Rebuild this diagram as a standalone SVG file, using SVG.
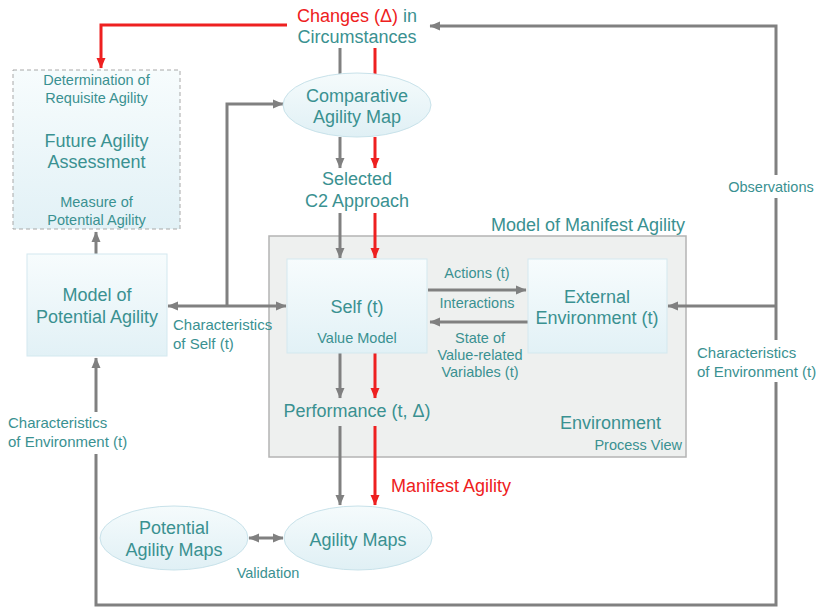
<svg xmlns="http://www.w3.org/2000/svg" width="824" height="608" viewBox="0 0 824 608">
  <defs>
    <linearGradient id="boxFill" x1="0" y1="0" x2="0" y2="1">
      <stop offset="0" stop-color="#f7fcfd"/>
      <stop offset="1" stop-color="#e2f1f6"/>
    </linearGradient>
    <linearGradient id="ovalFill" x1="0" y1="0" x2="0" y2="1">
      <stop offset="0" stop-color="#f5fbfc"/>
      <stop offset="1" stop-color="#e0f0f5"/>
    </linearGradient>
    <marker id="ag" markerUnits="userSpaceOnUse" markerWidth="11" markerHeight="10" refX="10" refY="5" orient="auto-start-reverse">
      <path d="M0,0.5 L10.5,5 L0,9.5 z" fill="#808080"/>
    </marker>
    <marker id="ar" markerUnits="userSpaceOnUse" markerWidth="11" markerHeight="10" refX="10" refY="5" orient="auto-start-reverse">
      <path d="M0,0.5 L10.5,5 L0,9.5 z" fill="#ee2020"/>
    </marker>
  </defs>
  <style>
    text { font-family: "Liberation Sans", Arial, sans-serif; fill: #3a9191; }
    .lg { font-size: 18px; }
    .sm { font-size: 14.5px; }
    .md { font-size: 15px; }
    .c { text-anchor: middle; }
    .red { fill: #ee2020; }
    .box { fill: url(#boxFill); stroke: #d3e8ef; stroke-width: 1; }
    .oval { fill: url(#ovalFill); stroke: #c8e2ea; stroke-width: 1; }
    .g { fill: none; stroke: #808080; stroke-width: 3; }
    .r { fill: none; stroke: #ee2020; stroke-width: 3; }
  </style>
  <rect width="824" height="608" fill="#ffffff"/>

  <!-- Process-view panel -->
  <g id="manifest-panel">
    <rect x="269" y="236" width="417" height="221" fill="#eef0ef" stroke="#b4b4b4" stroke-width="1.5"/>
    <text class="lg" x="685" y="231" text-anchor="end">Model of Manifest Agility</text>
    <text class="lg" x="661" y="429" text-anchor="end">Environment</text>
    <text class="sm" x="682" y="450" text-anchor="end">Process View</text>
  </g>

  <!-- Connectors -->
  <g id="connectors">
    <!-- red change path -->
    <path class="r" d="M287,25 L101,25 L101,68" marker-end="url(#ar)"/>
    <path class="r" d="M375,48 L375,74"/>
    <path class="r" d="M375,137 L375,168" marker-end="url(#ar)"/>
    <path class="r" d="M375,213 L375,258" marker-end="url(#ar)"/>
    <path class="r" d="M375,353 L375,398" marker-end="url(#ar)"/>
    <path class="r" d="M375,426 L375,505" marker-end="url(#ar)"/>
    <!-- gray main flow -->
    <path class="g" d="M340,48 L340,74"/>
    <path class="g" d="M340,137 L340,168" marker-end="url(#ag)"/>
    <path class="g" d="M340,213 L340,258" marker-end="url(#ag)"/>
    <path class="g" d="M340,353 L340,398" marker-end="url(#ag)"/>
    <path class="g" d="M340,426 L340,505" marker-end="url(#ag)"/>
    <!-- self characteristics -->
    <path class="g" d="M168,306 L286,306" marker-start="url(#ag)" marker-end="url(#ag)"/>
    <path class="g" d="M227,306 L227,104 L283,104" marker-end="url(#ag)"/>
    <!-- potential agility up to assessment -->
    <path class="g" d="M96,254 L96,232" marker-end="url(#ag)"/>
    <!-- actions / state -->
    <path class="g" d="M428,290 L526,290" marker-end="url(#ag)"/>
    <path class="g" d="M528,322 L430,322" marker-end="url(#ag)"/>
    <!-- outer observation loop -->
    <path class="g" d="M776,175 L776,26 L430,26" marker-end="url(#ag)"/>
    <path class="g" d="M776,198 L776,340"/>
    <path class="g" d="M776,306 L668,306" marker-end="url(#ag)"/>
    <path class="g" d="M776,382 L776,605 L96,605 L96,454"/>
    <path class="g" d="M96,412 L96,358" marker-end="url(#ag)"/>
    <!-- validation -->
    <path class="g" d="M249,538 L283,538" marker-start="url(#ag)" marker-end="url(#ag)"/>
    <!-- labels on connectors -->
    <text class="sm" x="771" y="192" text-anchor="middle">Observations</text>
    <text class="md" x="697" y="358">Characteristics</text>
    <text class="md" x="697" y="377">of Environment (t)</text>
    <text class="md" x="8" y="428">Characteristics</text>
    <text class="md" x="8" y="447">of Environment (t)</text>
    <text class="md" x="173" y="330">Characteristics</text>
    <text class="md" x="173" y="349">of Self (t)</text>
    <text class="sm c" x="477" y="278">Actions (t)</text>
    <text class="sm c" x="477" y="308">Interactions</text>
    <text class="sm c" x="480" y="343">State of</text>
    <text class="sm c" x="480" y="360">Value-related</text>
    <text class="sm c" x="480" y="377">Variables (t)</text>
    <text class="lg red" x="391" y="492">Manifest Agility</text>
    <text class="sm c" x="268" y="578">Validation</text>
  </g>

  <g id="changes">
    <text class="lg c" x="357" y="22"><tspan class="red">Changes (Δ)</tspan> in</text>
    <text class="lg c" x="357" y="43">Circumstances</text>
  </g>

  <g id="future-agility-assessment">
    <rect class="box" x="13" y="70" width="167" height="159" stroke="#a8a8a8" stroke-dasharray="4,3" style="stroke:#a8a8a8"/>
    <text class="sm c" x="96.5" y="85">Determination of</text>
    <text class="sm c" x="96.5" y="103">Requisite Agility</text>
    <text class="lg c" x="96.5" y="147">Future Agility</text>
    <text class="lg c" x="96.5" y="168">Assessment</text>
    <text class="sm c" x="96.5" y="207">Measure of</text>
    <text class="sm c" x="96.5" y="225">Potential Agility</text>
  </g>

  <g id="comparative-agility-map">
    <ellipse class="oval" cx="357" cy="105" rx="74" ry="32"/>
    <text class="lg c" x="357" y="102">Comparative</text>
    <text class="lg c" x="357" y="123">Agility Map</text>
  </g>

  <g id="selected-c2-approach">
    <text class="lg c" x="357" y="185">Selected</text>
    <text class="lg c" x="357" y="207">C2 Approach</text>
  </g>

  <g id="model-of-potential-agility">
    <rect class="box" x="27" y="254" width="140" height="102"/>
    <text class="lg c" x="97" y="301">Model of</text>
    <text class="lg c" x="97" y="323">Potential Agility</text>
  </g>

  <g id="self">
    <rect class="box" x="287" y="259" width="140" height="94"/>
    <text class="lg c" x="357" y="313">Self (t)</text>
    <text class="sm c" x="357" y="343">Value Model</text>
  </g>

  <g id="external-environment">
    <rect class="box" x="528" y="259" width="139" height="94"/>
    <text class="lg c" x="597" y="303">External</text>
    <text class="lg c" x="597" y="324">Environment (t)</text>
  </g>

  <g id="performance">
    <text class="lg c" x="357" y="417">Performance (t, Δ)</text>
  </g>

  <g id="potential-agility-maps">
    <ellipse class="oval" cx="174" cy="538" rx="74" ry="32"/>
    <text class="lg c" x="174" y="534">Potential</text>
    <text class="lg c" x="174" y="556">Agility Maps</text>
  </g>

  <g id="agility-maps">
    <ellipse class="oval" cx="358" cy="538" rx="74" ry="32"/>
    <text class="lg c" x="358" y="546">Agility Maps</text>
  </g>
</svg>
